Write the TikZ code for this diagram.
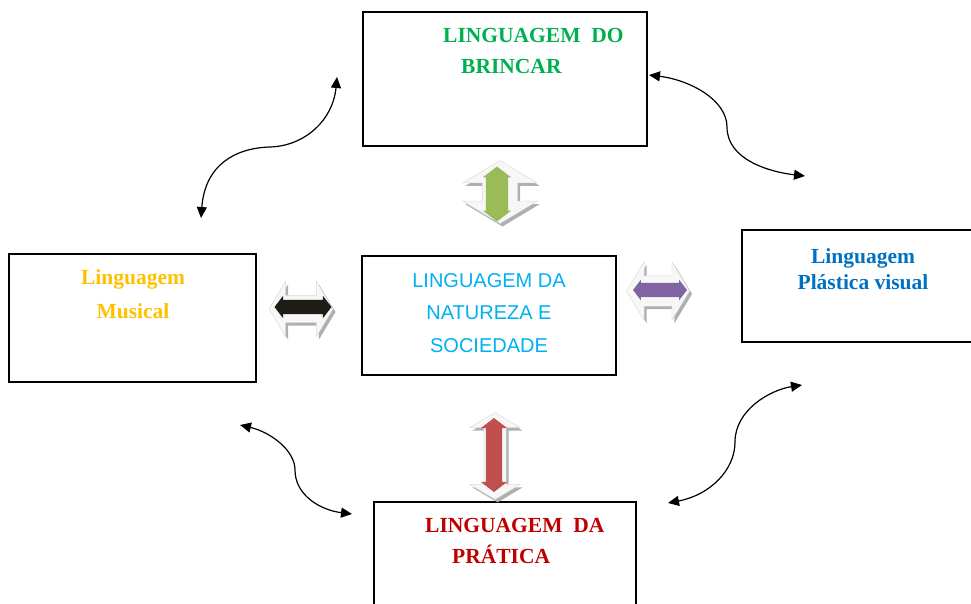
\documentclass[tikz,border=0pt]{standalone}
\usepackage{fontspec}
\setmainfont{Liberation Serif}
\setsansfont{Liberation Sans}
\usetikzlibrary{arrows.meta,shapes.arrows,shadows,positioning}
\usepackage{xcolor}
\definecolor{brincarGreen}{RGB}{0,176,80}
\definecolor{musicalGold}{RGB}{255,192,0}
\definecolor{naturezaCyan}{RGB}{0,176,240}
\definecolor{plasticaBlue}{RGB}{0,112,192}
\definecolor{praticaRed}{RGB}{192,0,0}
\definecolor{arrGreen}{RGB}{155,187,89}
\definecolor{arrBlack}{RGB}{30,28,20}
\definecolor{arrPurple}{RGB}{128,100,162}
\definecolor{arrRed}{RGB}{192,80,77}

\begin{document}
\begin{tikzpicture}[
				x=1pt,y=-1pt,
				box/.style={draw,line width=1.6pt,inner sep=0pt},
				lbl/.style={font=\fontsize{21.5}{31}\selectfont\bfseries,inner sep=0pt},
				curvy/.style={{Triangle[length=11pt,width=10pt]}-{Triangle[length=11pt,width=10pt]},line width=1.2pt},
				outarr/.style={double arrow,draw=gray!30,fill=gray!6,inner xsep=0pt,
					drop shadow={shadow xshift=2.5pt,shadow yshift=-3pt,fill=gray!70,opacity=0.9}},
				inarr/.style={double arrow,draw=none,inner xsep=0pt}
				]
				
				\useasboundingbox (0,0) rectangle (971,604);
				
				% Caixas
				\node[box,minimum width=284pt,minimum height=134pt] (brincar) at (505,79) {};
				\node[box,minimum width=247pt,minimum height=128pt] (musical) at (132.5,318) {};
				\node[box,minimum width=254pt,minimum height=119pt] (natureza) at (489,315.5) {};
				\node[box,minimum width=258pt,minimum height=112pt] (plastica) at (871,286) {};
				\node[box,minimum width=262pt,minimum height=148pt] (pratica) at (505,576) {};
				
				% Textos
				\node[lbl,text=brincarGreen,align=left,anchor=north west] (brincarTxt) at (443,28)
					{LINGUAGEM~~DO\\\hspace*{18pt}BRINCAR};
				\node[lbl,text=musicalGold,align=center,anchor=north,font=\fontsize{21.5}{34}\selectfont\bfseries] (musicalTxt) at (133,269)
					{Linguagem\\Musical};
				\node[font=\sffamily\fontsize{20}{32.5}\selectfont,text=naturezaCyan,align=center,anchor=north,inner sep=0pt] (naturezaTxt) at (489,273)
					{LINGUAGEM DA\\NATUREZA E\\SOCIEDADE};
				\node[lbl,text=plasticaBlue,align=center,anchor=north,font=\fontsize{21.5}{26.5}\selectfont\bfseries] (plasticaTxt) at (863,248)
					{Linguagem\\Plástica visual};
				\node[lbl,text=praticaRed,align=left,anchor=north west] (praticaTxt) at (425,518)
					{LINGUAGEM~~DA\\\hspace*{27pt}PRÁTICA};
				
				% Setas duplas
				\node[outarr,rotate=90,inner ysep=17.5pt,minimum height=63pt,minimum width=74pt,
					double arrow head extend=19.5pt,double arrow tip angle=118] (arrBrincar) at (500,192) {};
				\node[inarr,fill=arrGreen,rotate=90,inner ysep=11pt,minimum height=55pt,minimum width=28pt,
					double arrow head extend=3pt,double arrow tip angle=105] (arrBrincarIn) at (497,194) {};
				
				\node[outarr,inner ysep=13.5pt,minimum height=64pt,minimum width=55pt,
					double arrow head extend=14pt,double arrow tip angle=118] (arrMusical) at (301,309) {};
				\node[inarr,fill=arrBlack,inner ysep=7pt,minimum height=57pt,minimum width=22pt,
					double arrow head extend=4pt,double arrow tip angle=105] (arrMusicalIn) at (303,307) {};
				
				\node[outarr,inner ysep=15pt,minimum height=63pt,minimum width=58pt,
					double arrow head extend=14pt,double arrow tip angle=118] (arrPlastica) at (658,291) {};
				\node[inarr,fill=arrPurple,inner ysep=7pt,minimum height=54pt,minimum width=20pt,
					double arrow head extend=3pt,double arrow tip angle=105] (arrPlasticaIn) at (660,290) {};
				
				\node[outarr,rotate=90,inner ysep=11pt,minimum height=87pt,minimum width=50pt,
					double arrow head extend=14pt,double arrow tip angle=118] (arrPratica) at (495,456) {};
				\node[inarr,fill=arrRed,rotate=90,inner ysep=8pt,minimum height=74pt,minimum width=26pt,
					double arrow head extend=5pt,double arrow tip angle=105] (arrPraticaIn) at (494,455) {};
				
				% Setas curvas
				\coordinate (c1a) at (201,218);
				\coordinate (c1b) at (337,77);
				\coordinate (c2a) at (649,75);
				\coordinate (c2b) at (805,176);
				\coordinate (c3a) at (240,425);
				\coordinate (c3b) at (352,514);
				\coordinate (c4a) at (668,503);
				\coordinate (c4b) at (802,385);
				
				\draw[curvy] (c1a) .. controls (205,165) and (235,148) .. (270,147) .. controls (305,146) and (333,120) .. (c1b);
				\draw[curvy] (c2a) .. controls (690,80) and (727,100) .. (727,127) .. controls (727,160) and (770,172) .. (c2b);
				\draw[curvy] (c3a) .. controls (270,432) and (295,450) .. (295,470) .. controls (295,495) and (320,510) .. (c3b);
				\draw[curvy] (c4a) .. controls (710,495) and (735,470) .. (735,442) .. controls (735,410) and (770,390) .. (c4b);
				
			\end{tikzpicture}
\end{document}
